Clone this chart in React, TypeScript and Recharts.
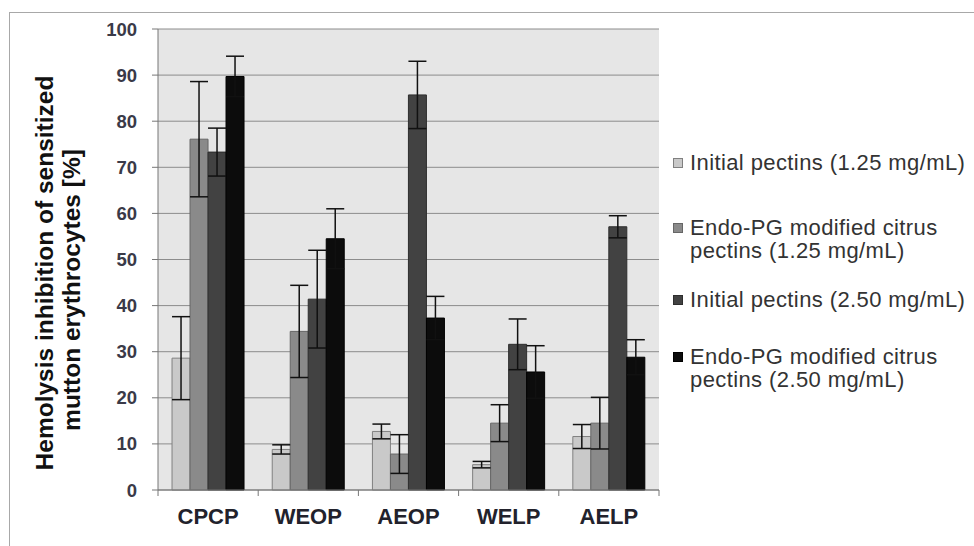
import React from "react";
import { Bar, BarChart, CartesianGrid, ErrorBar, Legend, XAxis, YAxis } from "recharts";

const samples = ["CPCP", "WEOP", "AEOP", "WELP", "AELP"];
const initial125 = [28.6, 8.8, 12.7, 5.5, 11.6];
const initial125Err = [9.0, 1.0, 1.6, 0.7, 2.6];
const endo125 = [76.1, 34.4, 7.8, 14.5, 14.5];
const endo125Err = [12.5, 10.0, 4.2, 4.0, 5.6];
const initial250 = [73.3, 41.4, 85.7, 31.6, 57.1];
const initial250Err = [5.2, 10.6, 7.3, 5.5, 2.4];
const endo250 = [89.7, 54.5, 37.3, 25.6, 28.8];
const endo250Err = [4.4, 6.5, 4.7, 5.7, 3.8];
const yTicks = [0, 10, 20, 30, 40, 50, 60, 70, 80, 90, 100];
const yTitle = ["Hemolysis inhibition of sensitized", "mutton erythrocytes [%]"];

const data = samples.map((s, i) => ({
  sample: s,
  a: initial125[i],
  aErr: initial125Err[i],
  b: endo125[i],
  bErr: endo125Err[i],
  c: initial250[i],
  cErr: initial250Err[i],
  d: endo250[i],
  dErr: endo250Err[i],
}));

const series = [
  { key: "a", fill: "#c9c9c9", stroke: "#808080", lines: ["Initial pectins (1.25 mg/mL)"] },
  { key: "b", fill: "#8a8a8a", stroke: "#666666", lines: ["Endo-PG modified citrus", "pectins (1.25 mg/mL)"] },
  { key: "c", fill: "#424242", stroke: "#2e2e2e", lines: ["Initial pectins (2.50 mg/mL)"] },
  { key: "d", fill: "#0c0c0c", stroke: "#000000", lines: ["Endo-PG modified citrus", "pectins (2.50 mg/mL)"] },
];

const W = 974;
const H = 546;
const margin = { top: 29, right: 315, bottom: 26, left: 98 };
const yAxisWidth = 60;
const plotW = W - margin.left - margin.right - yAxisWidth;
const band = plotW / samples.length;
const font = "'Liberation Sans', Arial, sans-serif";

function CategoryTick(props: any) {
  const { x, y, payload, index } = props;
  const half = band / 2;
  return (
    <g>
      {index === 0 && <line x1={x - half} x2={x - half} y1={y - 8} y2={y - 2} stroke="#777" />}
      <line x1={x + half} x2={x + half} y1={y - 8} y2={y - 2} stroke="#777" />
      <text x={x} y={y + 26} textAnchor="middle" fontFamily={font} fontWeight="bold" fontSize={22} fill="#22222c">
        {payload.value}
      </text>
    </g>
  );
}

function LegendBox() {
  const tops = [151, 216, 288, 345];
  return (
    <div
      style={{
        position: "absolute",
        left: 673,
        top: 0,
        fontFamily: font,
        fontSize: 22,
        letterSpacing: 0.4,
        color: "#333",
      }}
    >
      {series.map((s, i) => (
        <div key={s.key} style={{ position: "absolute", top: tops[i], left: 0, whiteSpace: "nowrap", lineHeight: "23px" }}>
          <span
            style={{
              position: "absolute",
              left: 0,
              top: 7,
              width: 8,
              height: 8,
              background: s.fill,
              border: `1px solid ${s.stroke}`,
            }}
          />
          {s.lines.map((l) => (
            <div key={l} style={{ marginLeft: 17 }}>
              {l}
            </div>
          ))}
        </div>
      ))}
    </div>
  );
}

export default function App() {
  const titlePos = [
    { x: 45, y: 273 },
    { x: 72, y: 290 },
  ];
  return (
    <div style={{ position: "absolute", left: 0, top: 0, width: W, height: H, background: "#fff", overflow: "hidden" }}>
      <div
        style={{
          position: "absolute",
          left: 9,
          top: 12,
          width: W,
          height: H,
          borderTop: "1px solid #a8a8a8",
          borderLeft: "1px solid #a8a8a8",
        }}
      />
      <div style={{ position: "absolute", left: 0, top: 0 }}>
        <BarChart width={W} height={H} data={data} margin={margin} barCategoryGap="14%" barGap={0}>
          <CartesianGrid vertical={false} stroke="#8c8c8c" fill="#e6e6e6" />
          <XAxis
            dataKey="sample"
            stroke="#777"
            tickLine={false}
            tick={<CategoryTick />}
            height={30}
            interval={0}
          />
          <YAxis
            width={yAxisWidth}
            domain={[0, 100]}
            ticks={yTicks}
            stroke="#777"
            tickSize={6}
            tickMargin={15}
            tick={{ fontFamily: font, fontWeight: "bold", fontSize: 18.5, fill: "#3a3a48" }}
            interval={0}
          />
          <Legend content={() => null} />
          {series.map((s) => (
            <Bar key={s.key} dataKey={s.key} fill={s.fill} stroke={s.stroke} strokeWidth={1} isAnimationActive={false}>
              <ErrorBar dataKey={`${s.key}Err`} width={9} stroke="#111" strokeWidth={1.5} />
            </Bar>
          ))}
        </BarChart>
      </div>
      {yTitle.map((t, i) => (
        <div
          key={t}
          style={{
            position: "absolute",
            left: titlePos[i].x,
            top: titlePos[i].y,
            transform: "translate(-50%, -50%) rotate(-90deg)",
            fontFamily: font,
            fontWeight: "bold",
            fontSize: 24.5,
            lineHeight: "26px",
            color: "#111",
            whiteSpace: "nowrap",
          }}
        >
          {t}
        </div>
      ))}
      <LegendBox />
    </div>
  );
}
